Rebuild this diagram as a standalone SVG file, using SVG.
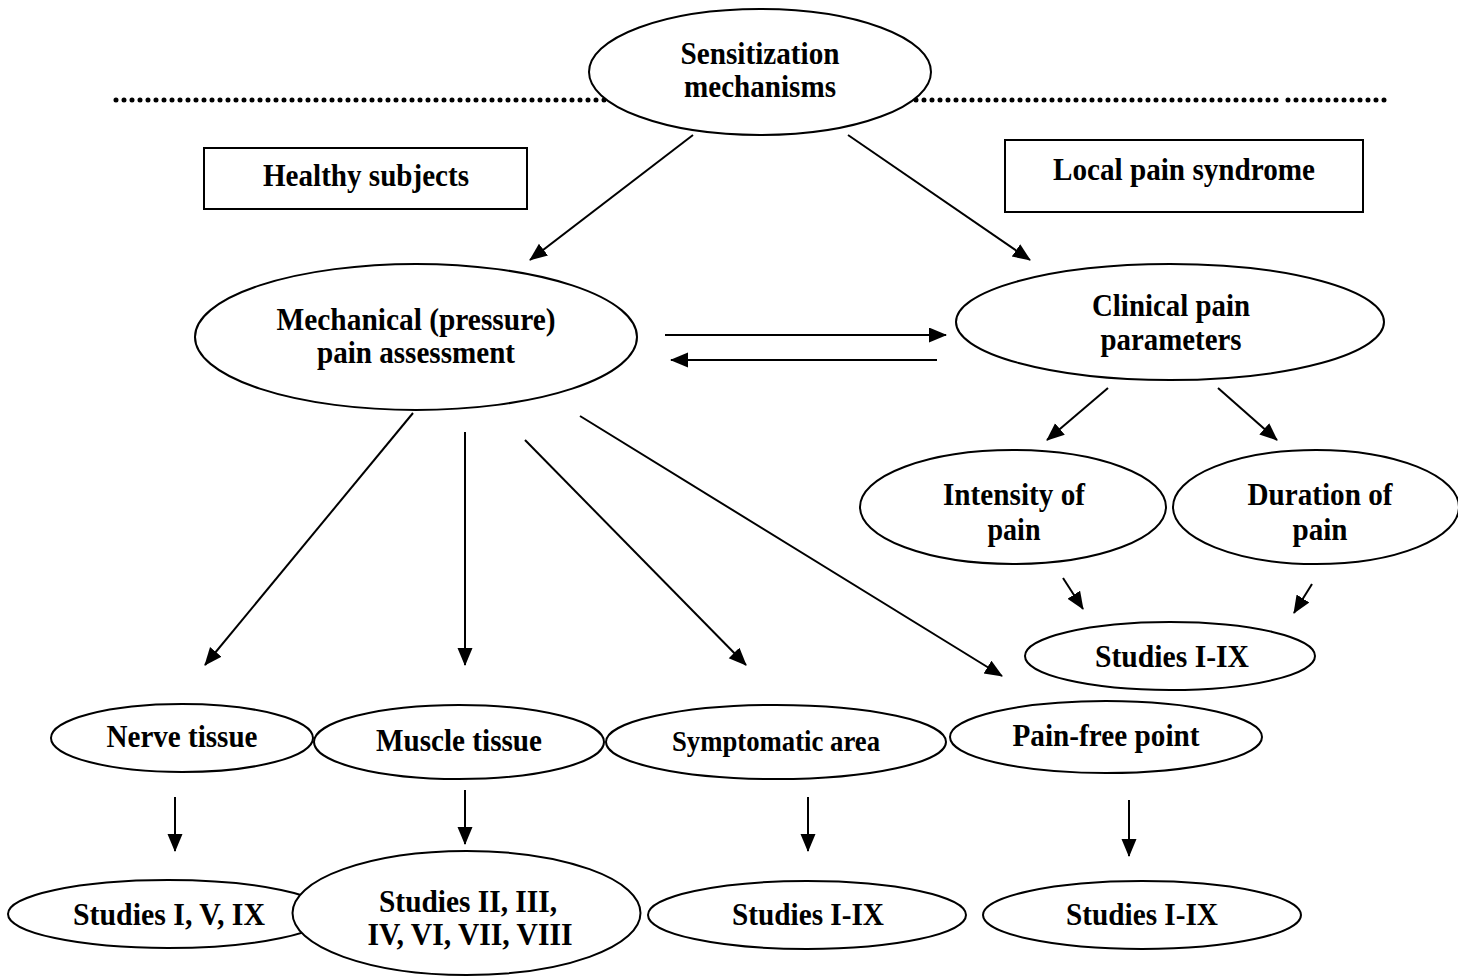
<svg xmlns="http://www.w3.org/2000/svg" width="1458" height="976" viewBox="0 0 1458 976">
<style>
.n{fill:#fff;stroke:#000;stroke-width:2}
.t{font-family:"Liberation Serif","Times New Roman",serif;font-weight:bold;font-size:32px;text-anchor:middle;fill:#000}
.s{font-size:29px}
.c{stroke:#000;stroke-width:2;fill:none;marker-end:url(#ah)}
.dot{stroke:#000;stroke-width:5;stroke-linecap:round;stroke-dasharray:0 8;fill:none}
</style>
<defs>
<marker id="ah" markerUnits="userSpaceOnUse" markerWidth="20" markerHeight="16" refX="17" refY="7.5" orient="auto">
<path d="M0,0 L18,7.5 L0,15 Z" fill="#000"/>
</marker>
</defs>
<rect width="1458" height="976" fill="#fff"/>
<g id="divider">
<path class="dot" d="M116,100 H605"/>
<path class="dot" d="M916,100 H1280"/>
<path class="dot" d="M1288,100 H1390"/>
</g>
<g id="connectors">
<line class="c" x1="693" y1="135" x2="530" y2="260"/>
<line class="c" x1="848" y1="135" x2="1030" y2="260"/>
<line class="c" x1="665" y1="335" x2="946" y2="335"/>
<line class="c" x1="937" y1="360" x2="671" y2="360"/>
<line class="c" x1="1108" y1="388" x2="1047" y2="440"/>
<line class="c" x1="1218" y1="388" x2="1277" y2="440"/>
<line class="c" x1="1063" y1="578" x2="1083" y2="609"/>
<line class="c" x1="1312" y1="584" x2="1294" y2="613"/>
<line class="c" x1="413" y1="413" x2="205" y2="665"/>
<line class="c" x1="465" y1="432" x2="465" y2="665"/>
<line class="c" x1="525" y1="440" x2="746" y2="665"/>
<line class="c" x1="580" y1="416" x2="1002" y2="676"/>
<line class="c" x1="175" y1="797" x2="175" y2="851"/>
<line class="c" x1="465" y1="790" x2="465" y2="844"/>
<line class="c" x1="808" y1="797" x2="808" y2="851"/>
<line class="c" x1="1129" y1="800" x2="1129" y2="856"/>
</g>
<g id="sensitization">
<ellipse class="n" cx="760" cy="72" rx="171" ry="63"/>
<text class="t" x="760" y="64" textLength="159" lengthAdjust="spacingAndGlyphs">Sensitization</text>
<text class="t" x="760" y="97" textLength="152" lengthAdjust="spacingAndGlyphs">mechanisms</text>
</g>
<g id="healthy">
<rect class="n" x="204" y="148" width="323" height="61"/>
<text class="t" x="366" y="186" textLength="206" lengthAdjust="spacingAndGlyphs">Healthy subjects</text>
</g>
<g id="local">
<rect class="n" x="1005" y="140" width="358" height="72"/>
<text class="t" x="1184" y="180" textLength="262" lengthAdjust="spacingAndGlyphs">Local pain syndrome</text>
</g>
<g id="mechanical">
<ellipse class="n" cx="416" cy="337" rx="221" ry="73"/>
<text class="t" x="416" y="330" textLength="279" lengthAdjust="spacingAndGlyphs">Mechanical (pressure)</text>
<text class="t" x="416" y="363" textLength="198" lengthAdjust="spacingAndGlyphs">pain assessment</text>
</g>
<g id="clinical">
<ellipse class="n" cx="1170" cy="322" rx="214" ry="58"/>
<text class="t" x="1171" y="316" textLength="158" lengthAdjust="spacingAndGlyphs">Clinical pain</text>
<text class="t" x="1171" y="350" textLength="141" lengthAdjust="spacingAndGlyphs">parameters</text>
</g>
<g id="intensity">
<ellipse class="n" cx="1013" cy="507" rx="153" ry="57"/>
<text class="t" x="1014" y="505" textLength="142" lengthAdjust="spacingAndGlyphs">Intensity of</text>
<text class="t" x="1014" y="540" textLength="53" lengthAdjust="spacingAndGlyphs">pain</text>
</g>
<g id="duration">
<ellipse class="n" cx="1316" cy="507" rx="143" ry="57"/>
<text class="t" x="1320" y="505" textLength="145" lengthAdjust="spacingAndGlyphs">Duration of</text>
<text class="t" x="1320" y="540" textLength="55" lengthAdjust="spacingAndGlyphs">pain</text>
</g>
<g id="studies-clinical">
<ellipse class="n" cx="1170" cy="656" rx="145" ry="34"/>
<text class="t" x="1172" y="667" textLength="154" lengthAdjust="spacingAndGlyphs">Studies I-IX</text>
</g>
<g id="nerve">
<ellipse class="n" cx="182" cy="738" rx="131" ry="34"/>
<text class="t" x="182" y="747" textLength="151" lengthAdjust="spacingAndGlyphs">Nerve tissue</text>
</g>
<g id="muscle">
<ellipse class="n" cx="459" cy="742" rx="145" ry="37"/>
<text class="t" x="459" y="751" textLength="166" lengthAdjust="spacingAndGlyphs">Muscle tissue</text>
</g>
<g id="symptomatic">
<ellipse class="n" cx="776" cy="742" rx="170" ry="37"/>
<text class="t s" x="776" y="751" textLength="208" lengthAdjust="spacingAndGlyphs">Symptomatic area</text>
</g>
<g id="painfree">
<ellipse class="n" cx="1106" cy="737" rx="156" ry="36"/>
<text class="t" x="1106" y="746" textLength="187" lengthAdjust="spacingAndGlyphs">Pain-free point</text>
</g>
<g id="studies-nerve">
<ellipse class="n" cx="168" cy="914" rx="160" ry="34"/>
<text class="t" x="169" y="925" textLength="192" lengthAdjust="spacingAndGlyphs">Studies I, V, IX</text>
</g>
<g id="studies-muscle">
<ellipse class="n" cx="466.5" cy="913" rx="174" ry="62"/>
<text class="t" x="468" y="912" textLength="178" lengthAdjust="spacingAndGlyphs">Studies II, III,</text>
<text class="t" x="470" y="945" textLength="205" lengthAdjust="spacingAndGlyphs">IV, VI, VII, VIII</text>
</g>
<g id="studies-symptomatic">
<ellipse class="n" cx="807" cy="915" rx="159" ry="34"/>
<text class="t" x="808" y="925" textLength="152" lengthAdjust="spacingAndGlyphs">Studies I-IX</text>
</g>
<g id="studies-painfree">
<ellipse class="n" cx="1142" cy="915" rx="159" ry="34"/>
<text class="t" x="1142" y="925" textLength="152" lengthAdjust="spacingAndGlyphs">Studies I-IX</text>
</g>
</svg>
